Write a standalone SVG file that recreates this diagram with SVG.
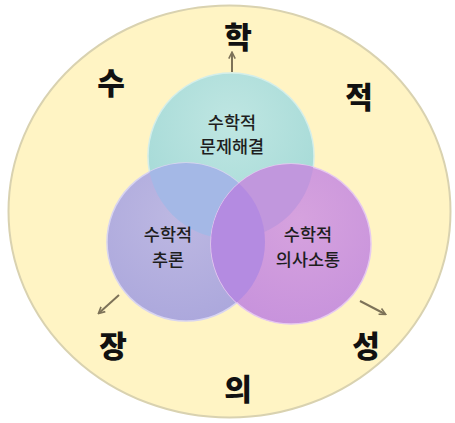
<svg xmlns="http://www.w3.org/2000/svg" width="455" height="423" viewBox="0 0 455 423">
<style>
.big{font-family:"Noto Sans CJK KR","Noto Sans",sans-serif;font-weight:900;font-size:30px;fill:#111;text-anchor:middle}
.lbl{font-family:"Noto Sans CJK KR","Noto Sans",sans-serif;font-weight:500;font-size:17.5px;fill:#1e1e1e;text-anchor:middle}
.arr{stroke:#7d7258;stroke-width:2;fill:none;marker-end:url(#ah)}
</style>
<defs>
<marker id="ah" viewBox="0 0 10 10" refX="8" refY="5" markerWidth="4" markerHeight="4" orient="auto">
<path d="M1,1 L9,5 L1,9" fill="none" stroke="#7d7258" stroke-width="2"/>
</marker>
<radialGradient id="gT" cx="0.5" cy="0.3" r="0.7">
<stop offset="0" stop-color="#bfe6e2"/><stop offset="1" stop-color="#a3d9d6"/>
</radialGradient>
<radialGradient id="gL" cx="0.45" cy="0.35" r="0.7">
<stop offset="0" stop-color="#bdb8e2"/><stop offset="1" stop-color="#aba7dc"/>
</radialGradient>
<radialGradient id="gR" cx="0.55" cy="0.35" r="0.7">
<stop offset="0" stop-color="#d6a2de"/><stop offset="1" stop-color="#c792dc"/>
</radialGradient>
<clipPath id="cT"><circle cx="231" cy="156" r="83"/></clipPath>
<clipPath id="cL"><circle cx="186" cy="242" r="79"/></clipPath>
</defs>
<rect width="455" height="423" fill="#ffffff"/>
<g id="outer">
<ellipse cx="229.5" cy="211.5" rx="221" ry="206" fill="#fff4c4" stroke="#d9d2b0" stroke-width="2"/>
</g>
<g id="connectors">
<line class="arr" x1="232" y1="72" x2="232" y2="53"/>
<line class="arr" x1="119" y1="295" x2="99" y2="313"/>
<line class="arr" x1="360" y1="301" x2="385" y2="314"/>
</g>
<g id="node-top">
<circle cx="231" cy="156" r="83" fill="url(#gT)" stroke="#d4eeea" stroke-width="1.5"/>
</g>
<g id="node-left">
<circle cx="186" cy="242" r="79" fill="url(#gL)" stroke="#d8d4f0" stroke-width="1.5"/>
<circle cx="186" cy="242" r="79" fill="#a4b8e6" clip-path="url(#cT)"/>
</g>
<g id="node-right">
<circle cx="291" cy="244" r="80" fill="url(#gR)" stroke="#e6c8f0" stroke-width="1.5"/>
<circle cx="291" cy="244" r="80" fill="#c197dd" clip-path="url(#cT)"/>
<circle cx="291" cy="244" r="80" fill="#b48be1" clip-path="url(#cL)"/>
</g>
<g id="labels">
<text class="lbl" x="232" y="129">수학적</text>
<text class="lbl" x="232" y="153">문제해결</text>
<text class="lbl" x="168" y="241">수학적</text>
<text class="lbl" x="168" y="266">추론</text>
<text class="lbl" x="308" y="241">수학적</text>
<text class="lbl" x="308" y="266">의사소통</text>
</g>
<g id="ring-text">
<text class="big" x="238" y="48">학</text>
<text class="big" x="111" y="94">수</text>
<text class="big" x="359" y="108">적</text>
<text class="big" x="113" y="357">장</text>
<text class="big" x="366" y="357">성</text>
<text class="big" x="238" y="400">의</text>
</g>
</svg>
